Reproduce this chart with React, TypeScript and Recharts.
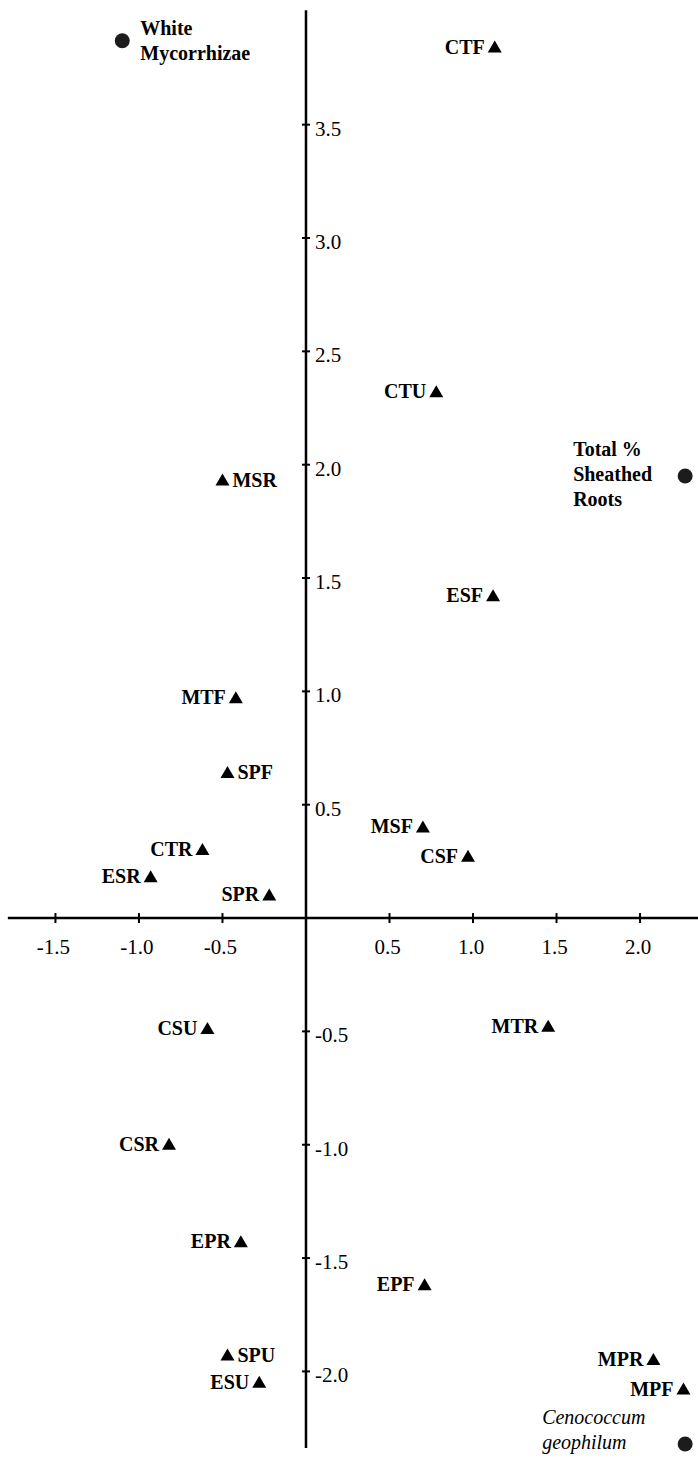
import { ScatterChart, Scatter, XAxis, YAxis, ReferenceLine, ReferenceDot } from 'recharts'

// sites (triangles)
const siteNames = ['CTF', 'CTU', 'MSR', 'ESF', 'MTF', 'SPF', 'MSF', 'CTR', 'CSF', 'ESR', 'SPR', 'CSU', 'MTR', 'CSR', 'EPR', 'EPF', 'MPR', 'SPU', 'MPF', 'ESU']
const siteX = [1.13, 0.78, -0.5, 1.12, -0.42, -0.47, 0.7, -0.62, 0.97, -0.93, -0.22, -0.59, 1.45, -0.82, -0.39, 0.71, 2.08, -0.47, 2.26, -0.28]
const siteY = [3.84, 2.32, 1.93, 1.42, 0.97, 0.64, 0.4, 0.3, 0.27, 0.18, 0.1, -0.49, -0.48, -1.0, -1.43, -1.62, -1.95, -1.93, -2.08, -2.05]
const rightLabelSites = ['MSR', 'SPF', 'SPU']

// fungal variables (circles)
const fungusNames = ['White|Mycorrhizae', 'Total %|Sheathed|Roots', 'Cenococcum|geophilum']
const fungusX = [-1.1, 2.27, 2.27]
const fungusY = [3.87, 1.95, -2.32]

const xTicks = [-1.5, -1.0, -0.5, 0.5, 1.0, 1.5, 2.0]
const yTicks = [-2.0, -1.5, -1.0, -0.5, 0.5, 1.0, 1.5, 2.0, 2.5, 3.0, 3.5]

const X_MIN = -1.832
const X_MAX = 2.347
const Y_MIN = -2.382
const Y_MAX = 4.05

const FONT = "'Liberation Serif', 'Times New Roman', serif"

const siteData = siteNames.map((name, i) => ({ name, x: siteX[i], y: siteY[i] }))
const fungusData = fungusNames.map((name, i) => ({ name, x: fungusX[i], y: fungusY[i] }))

function Triangle(props: any) {
  const { cx, cy } = props
  const name = props.payload?.name ?? props.name
  const right = rightLabelSites.includes(name)
  return (
    <g>
      <path d={`M${cx},${cy - 7} L${cx + 7},${cy + 5} L${cx - 7},${cy + 5} Z`} fill="#000" />
      <text
        x={right ? cx + 10 : cx - 10}
        y={cy + 6}
        textAnchor={right ? 'start' : 'end'}
        fontFamily={FONT}
        fontWeight="bold"
        fontSize={20}
        fill="#000"
      >
        {name}
      </text>
    </g>
  )
}

function Dot(props: any) {
  const { cx, cy } = props
  const name: string = props.payload?.name ?? props.name
  const lines = name.split('|')
  let tx = cx + 18
  let firstY = cy - 6
  let italic = false
  if (lines[0] === 'Total %') {
    tx = cx - 112
    firstY = cy - 20
  } else if (lines[0] === 'Cenococcum') {
    tx = cx - 143
    firstY = cy - 20
    italic = true
  }
  return (
    <g>
      <circle cx={cx} cy={cy} r={7.5} fill="#1c1c1c" />
      <text
        x={tx}
        y={firstY}
        fontFamily={FONT}
        fontWeight={italic ? 'normal' : 'bold'}
        fontStyle={italic ? 'italic' : 'normal'}
        fontSize={20}
        fill="#000"
      >
        {lines.map((l, i) => (
          <tspan key={l} x={tx} dy={i === 0 ? 0 : 25}>
            {l}
          </tspan>
        ))}
      </text>
    </g>
  )
}

function XTick(props: any & { value: number }) {
  const { cx, cy, value } = props
  return (
    <g>
      <line x1={cx} y1={cy - 5} x2={cx} y2={cy + 5} stroke="#000" strokeWidth={2} />
      <text x={cx - 2} y={cy + 36} textAnchor="middle" fontFamily={FONT} fontSize={21} fill="#000">
        {value.toFixed(1)}
      </text>
    </g>
  )
}

function YTick(props: any & { value: number }) {
  const { cx, cy, value } = props
  return (
    <g>
      <line x1={cx - 4} y1={cy} x2={cx + 4} y2={cy} stroke="#000" strokeWidth={2} />
      <text x={cx + 9} y={cy + 11} textAnchor="start" fontFamily={FONT} fontSize={21} fill="#000">
        {value.toFixed(1)}
      </text>
    </g>
  )
}

export default function App() {
  return (
    <div style={{ position: 'absolute', left: 0, top: 0, background: '#fff' }}>
      <ScatterChart width={698} height={1458} margin={{ top: 0, right: 0, bottom: 0, left: 0 }}>
        <XAxis type="number" dataKey="x" domain={[X_MIN, X_MAX]} allowDataOverflow hide />
        <YAxis type="number" dataKey="y" domain={[Y_MIN, Y_MAX]} allowDataOverflow hide />
        <ReferenceLine
          segment={[{ x: -1.785, y: 0 }, { x: X_MAX, y: 0 }]}
          stroke="#000"
          strokeWidth={2.5}
        />
        <ReferenceLine
          segment={[{ x: 0, y: 4.005 }, { x: 0, y: -2.338 }]}
          stroke="#000"
          strokeWidth={2.5}
        />
        {xTicks.map((t) => (
          <ReferenceDot key={`x${t}`} x={t} y={0} r={0} shape={(p: any) => <XTick {...p} value={t} />} />
        ))}
        {yTicks.map((t) => (
          <ReferenceDot key={`y${t}`} x={0} y={t} r={0} shape={(p: any) => <YTick {...p} value={t} />} />
        ))}
        <Scatter data={siteData} shape={Triangle} isAnimationActive={false} />
        <Scatter data={fungusData} shape={Dot} isAnimationActive={false} />
      </ScatterChart>
    </div>
  )
}
